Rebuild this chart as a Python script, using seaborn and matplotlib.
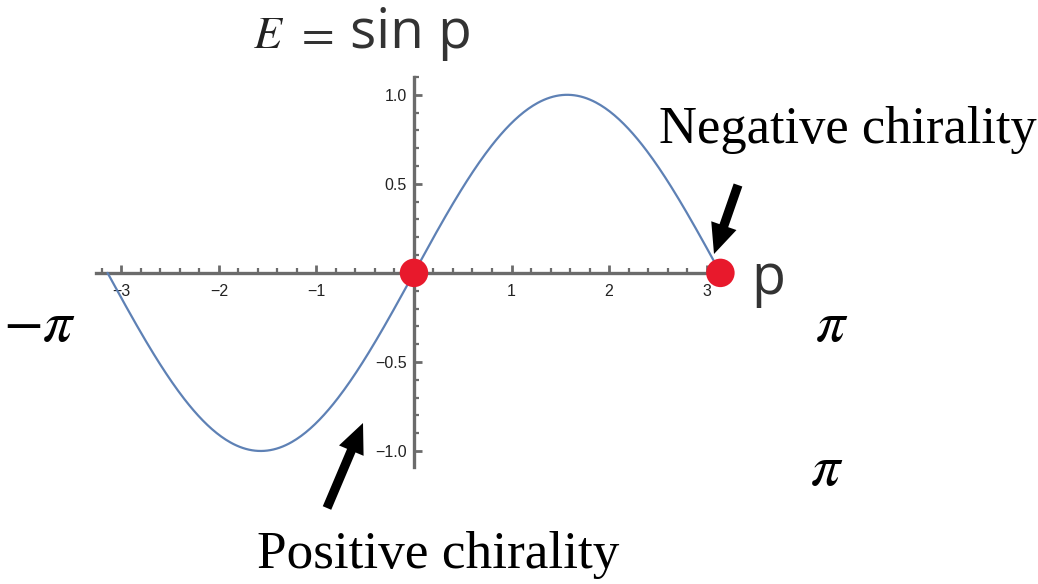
import numpy as np
import pandas as pd
import matplotlib
matplotlib.use("Agg")
import matplotlib.pyplot as plt
from matplotlib.patches import FancyArrowPatch
from matplotlib.ticker import MultipleLocator, FixedLocator, FixedFormatter
import seaborn as sns

# Dispersion E = sin p over one Brillouin zone
p_min, p_max = -np.pi, np.pi
p_values = np.linspace(p_min, p_max, 400)
energy = np.sin(p_values)

# Zero-energy crossing points (chiral modes)
node_p = [0.0, np.pi]
node_e = [0.0, 0.0]

x_tick_values = [-3, -2, -1, 1, 2, 3]
x_tick_labels = ["\u22123", "\u22122", "\u22121", "1", "2", "3"]
y_tick_values = [-1.0, -0.5, 0.5, 1.0]
y_tick_labels = ["\u22121.0", "\u22120.5", "0.5", "1.0"]

curve = pd.DataFrame({"p": p_values, "E": energy})
nodes = pd.DataFrame({"p": node_p, "E": node_e})

sns.set_style("white")
plt.rcParams["font.family"] = ["Liberation Sans", "DejaVu Sans"]
plt.rcParams["mathtext.fontset"] = "stix"

W, H = 1038, 584
fig = plt.figure(figsize=(W / 100, H / 100), dpi=100)
ax = fig.add_axes([96 / W, (H - 467) / H, 634 / W, 390 / H])
ax.set_facecolor("none")

axis_gray = "#6b6b6b"
sns.lineplot(data=curve, x="p", y="E", ax=ax, color="#5e81b5", linewidth=1.6,
             sort=False, estimator=None)
sns.scatterplot(data=nodes, x="p", y="E", ax=ax, color="#e8192c", s=420,
                edgecolor="none", zorder=5, clip_on=False)

ax.set_xlim(-3.26, 3.24)
ax.set_ylim(-1.09, 1.10)
ax.set_xlabel("")
ax.set_ylabel("")

for side in ("top", "right"):
    ax.spines[side].set_visible(False)
for side in ("left", "bottom"):
    ax.spines[side].set_position("zero")
    ax.spines[side].set_color(axis_gray)
    ax.spines[side].set_linewidth(2.4)
    ax.spines[side].set_zorder(1)

ax.xaxis.set_major_locator(FixedLocator(x_tick_values))
ax.xaxis.set_major_formatter(FixedFormatter(x_tick_labels))
ax.xaxis.set_minor_locator(MultipleLocator(0.2))
ax.yaxis.set_major_locator(FixedLocator(y_tick_values))
ax.yaxis.set_major_formatter(FixedFormatter(y_tick_labels))
ax.yaxis.set_minor_locator(MultipleLocator(0.1))

ax.tick_params(axis="both", which="both", bottom=True, left=True,
               top=False, right=False, direction="in", color=axis_gray)
ax.tick_params(axis="both", which="major", length=6, width=2.0,
               labelsize=11.5, labelcolor="#222222")
ax.tick_params(axis="both", which="minor", length=3.5, width=1.6)
ax.tick_params(axis="x", which="major", pad=8)
ax.tick_params(axis="y", which="major", pad=5)


def px(x, y):
    return x / W, 1 - y / H


serif = ["Liberation Serif", "DejaVu Serif"]
sans = ["Open Sans", "DejaVu Sans"]

# Formula heading
fig.text(*px(253, 48), r"$E$", fontsize=33, color="#222222", va="baseline")
fig.text(*px(295, 48), r"$=$", fontsize=34, color="#333333", va="baseline")
fig.text(*px(350, 48), "sin p", fontsize=39.5, color="#333333",
         va="baseline", family=sans)

# Momentum axis label
fig.text(*px(751, 294), "p", fontsize=40, color="#333333", va="baseline",
         family=sans)

# Zone boundary labels
fig.text(*px(3, 341), r"$-\pi$", fontsize=42, color="black", va="baseline")
fig.text(*px(815, 341), r"$\pi$", fontsize=42, color="black", va="baseline")
fig.text(*px(810, 485), r"$\pi$", fontsize=42, color="black", va="baseline")

# Chirality annotations
fig.text(*px(659, 143), "Negative chirality", fontsize=37.8, color="black",
         va="baseline", family=serif)
fig.text(*px(257, 568), "Positive chirality", fontsize=38.3, color="black",
         va="baseline", family=serif)

arrow_style = "simple,head_length=1.8,head_width=1.6,tail_width=0.55"
for tail, tip in [((738, 185), (714, 254)), ((327, 508), (363, 423))]:
    fig.add_artist(FancyArrowPatch(
        px(*tail), px(*tip), transform=fig.transFigure, arrowstyle=arrow_style,
        mutation_scale=12, color="black", lw=0, shrinkA=0, shrinkB=0))

fig.savefig("out.png", dpi=100)
